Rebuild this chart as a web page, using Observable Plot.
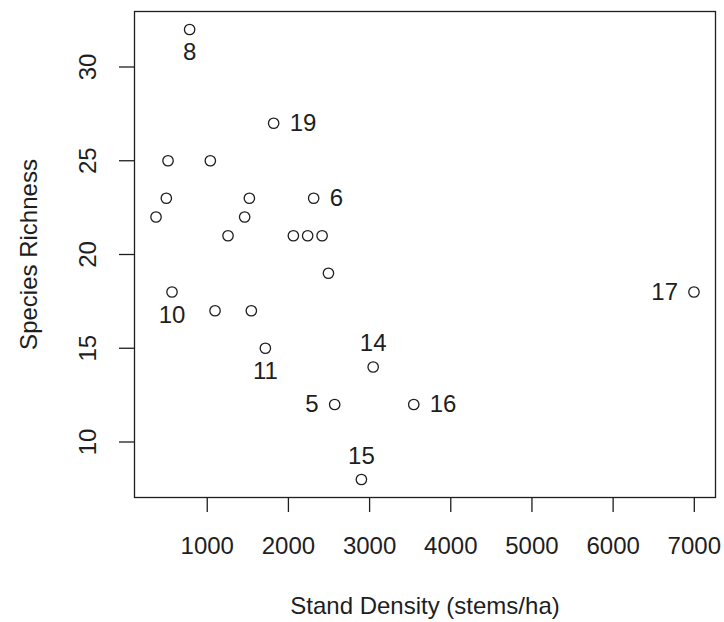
<!DOCTYPE html>
<html><head><meta charset="utf-8">
<script src="https://cdn.jsdelivr.net/npm/d3@7"></script>
<script src="https://cdn.jsdelivr.net/npm/@observablehq/plot@0.6"></script>
<style>body{margin:0;background:#fff}</style>
</head><body><div id="chart"></div>
<script>
// Stand density (stems/ha) and species richness per site
const density  = [783, 1818, 517, 1038, 496, 369, 1519, 2311, 1461, 1256, 2061, 2237, 2415, 2493, 566, 1096, 1543, 1716, 3044, 2570, 3544, 2899, 6996];
const richness = [32, 27, 25, 25, 23, 22, 23, 23, 22, 21, 21, 21, 21, 19, 18, 17, 17, 15, 14, 12, 12, 8, 18];
const siteLabels = ["8","19","","","","","","6","","","","","","","10","","","11","14","5","16","15","17"];
const labelSide  = ["below","right","","","","","","right","","","","","","","below","","","below","above","left","right","above","left"];
const xTicks = [1000, 2000, 3000, 4000, 5000, 6000, 7000];
const yTicks = [10, 15, 20, 25, 30];
const xTitle = "Stand Density (stems/ha)";
const yTitle = "Species Richness";

const pts = density.map((d, i) => ({x: d, y: richness[i], label: siteLabels[i], side: labelSide[i]}));
const pad = e => [e[0] - (e[1] - e[0]) * 0.04, e[1] + (e[1] - e[0]) * 0.04];
const font = "'Liberation Sans', Arial, Helvetica, sans-serif";
const ink = "#1e1e1e";
const fs = 24;

const side = s => pts.filter(p => p.side === s);

const chart = Plot.plot({
  width: 724, height: 622,
  marginLeft: 134, marginRight: 9, marginTop: 11, marginBottom: 125,
  style: {fontFamily: font, fontSize: fs + "px", color: ink, background: "#fff"},
  x: {domain: pad(d3.extent(density))},
  y: {domain: pad(d3.extent(richness))},
  marks: [
    Plot.frame({stroke: ink, strokeWidth: 1.3}),
    Plot.axisX(xTicks, {tickSize: 15, tickPadding: 24, fontSize: fs, label: null, strokeWidth: 1.3, tickFormat: d => String(d)}),
    Plot.axisY(yTicks, {tickSize: 15, tickFormat: () => "", label: null, strokeWidth: 1.3}),
    Plot.text(yTicks, {y: d => d, frameAnchor: "left", dx: -39, rotate: -90, textAnchor: "middle", lineAnchor: "bottom", text: d => String(d), fontSize: fs, fill: ink}),
    Plot.text([xTitle], {frameAnchor: "bottom", dy: 116, lineAnchor: "bottom", textAnchor: "middle", text: d => d, fontSize: fs, fill: ink}),
    Plot.text([yTitle], {frameAnchor: "left", dx: -97.5, rotate: -90, lineAnchor: "bottom", textAnchor: "middle", text: d => d, fontSize: fs, fill: ink}),
    Plot.dot(pts, {x: "x", y: "y", r: 5.2, stroke: ink, strokeWidth: 1.3, fill: "none"}),
    Plot.text(side("right"), {x: "x", y: "y", text: "label", textAnchor: "start", dx: 16, lineAnchor: "middle", fontSize: fs, fill: ink}),
    Plot.text(side("left"), {x: "x", y: "y", text: "label", textAnchor: "end", dx: -16, lineAnchor: "middle", fontSize: fs, fill: ink}),
    Plot.text(side("below"), {x: "x", y: "y", text: "label", textAnchor: "middle", dy: 23, lineAnchor: "middle", fontSize: fs, fill: ink}),
    Plot.text(side("above"), {x: "x", y: "y", text: "label", textAnchor: "middle", dy: -23.5, lineAnchor: "middle", fontSize: fs, fill: ink})
  ]
});
document.getElementById("chart").append(chart);
</script>
</body></html>
